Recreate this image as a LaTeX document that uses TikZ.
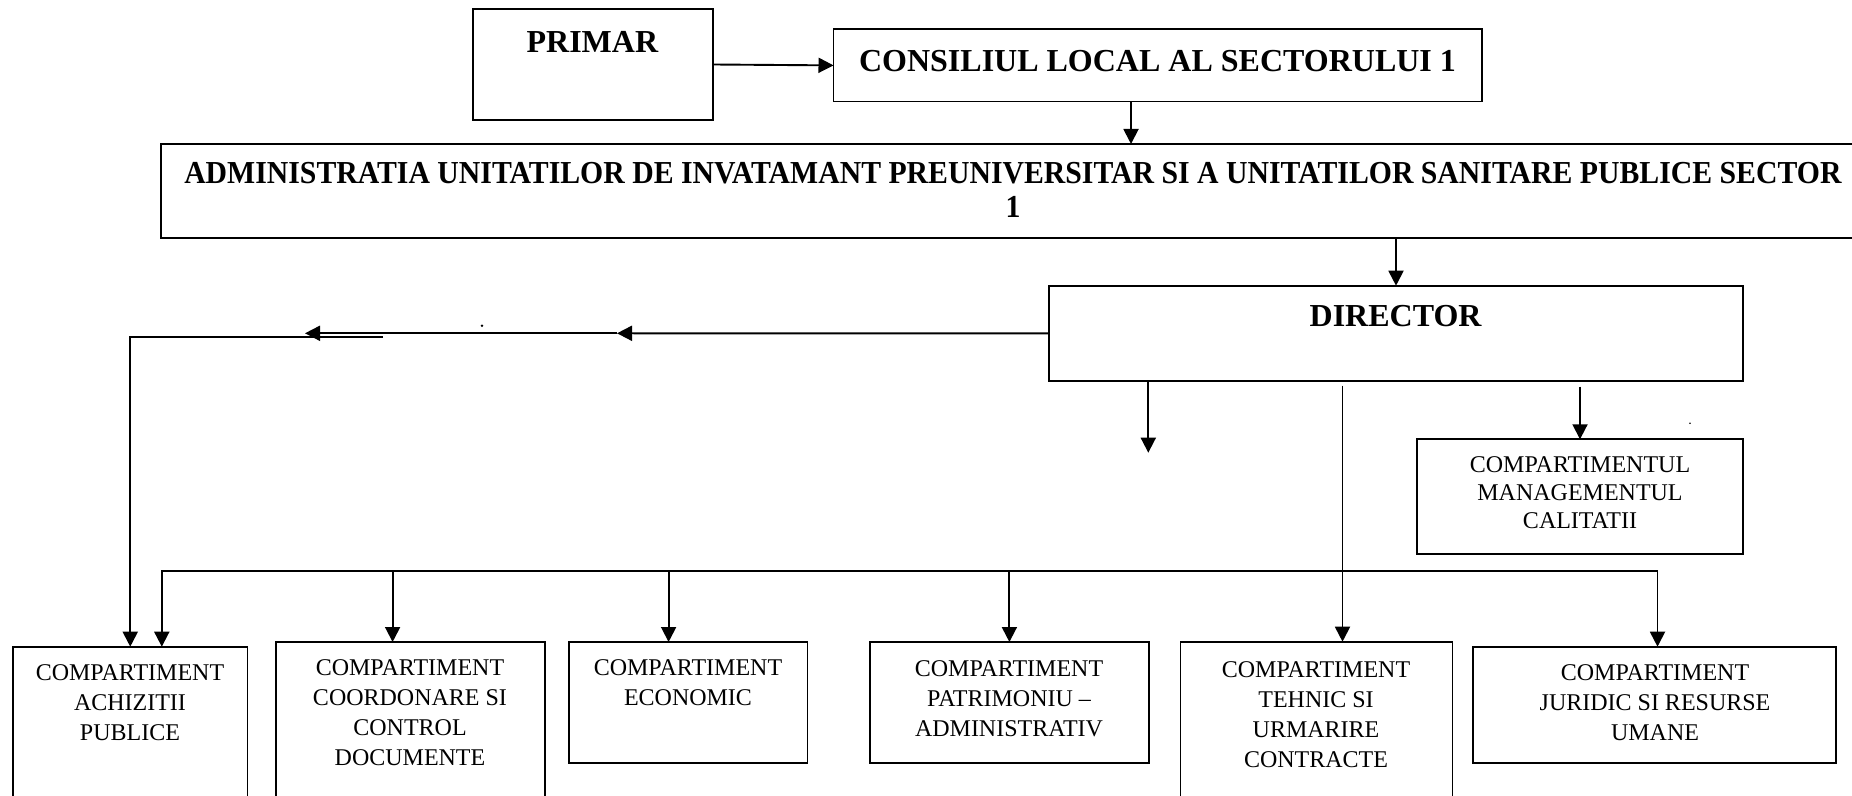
\documentclass[tikz,border=0pt]{standalone}
\usepackage{fontspec}
\setmainfont{Liberation Serif}
\newfontfamily\admfont[FakeStretch=0.93]{Liberation Serif}
\usetikzlibrary{arrows.meta}
\begin{document}
\begin{tikzpicture}[x=0.5pt,y=-0.5pt,
  box/.style={draw, line width=0.9pt, inner sep=0pt, outer sep=0pt, anchor=north west},
  arr/.style={line width=0.95pt, -{Triangle[length=7.5pt,width=7.5pt]}},
  bt/.style={font=\fontsize{16}{17}\selectfont\bfseries, inner sep=0pt, align=center},
  nt/.style={font=\fontsize{12}{15}\selectfont, inner sep=0pt, align=center, anchor=north},
  mt/.style={font=\fontsize{12}{14}\selectfont, inner sep=0pt, align=center, anchor=north}]
\useasboundingbox (0,0) rectangle (1852,796);
\fill[white] (0,0) rectangle (1852,796);

% boxes
\node[box, minimum width=120pt, minimum height=55.5pt] (primar) at (473,9) {};
\node[box, minimum width=324.25pt, minimum height=36.1pt] (consiliu) at (833.5,29.3) {};
\node[box, minimum width=848pt, minimum height=47pt] (admin) at (161,144) {};
\node[box, minimum width=347pt, minimum height=47.65pt] (director) at (1049,285.7) {};
\node[box, minimum width=163pt, minimum height=57.5pt] (mgmt) at (1417,439.3) {};
\node[box, minimum width=117.25pt, minimum height=78pt] (b1) at (13,646.7) {};
\node[box, minimum width=134.7pt, minimum height=81pt] (b2) at (275.6,642) {};
\node[box, minimum width=119.4pt, minimum height=60.35pt] (b3) at (568.6,642) {};
\node[box, minimum width=139.6pt, minimum height=60.35pt] (b4) at (869.8,642) {};
\node[box, minimum width=135.95pt, minimum height=81pt] (b5) at (1180.5,641.7) {};
\node[box, minimum width=181.5pt, minimum height=58pt] (b6) at (1473,646.7) {};

% texts
\node[bt] (primar-t) at (592.4,42) {PRIMAR};
\node[bt] (consiliu-t) at (1157.5,61) {CONSILIUL LOCAL AL SECTORULUI 1};
\node[bt, font=\fontsize{16}{17}\selectfont\admfont\bfseries, anchor=north] (admin-t) at (1013,162.2) {ADMINISTRATIA UNITATILOR DE INVATAMANT PREUNIVERSITAR SI A UNITATILOR SANITARE PUBLICE SECTOR\\1};
\node[bt] (director-t) at (1395.6,316) {DIRECTOR};
\node[mt] (mgmt-t) at (1580,456.3) {COMPARTIMENTUL\\MANAGEMENTUL\\CALITATII};
\node[nt] (b1-t) at (130,664) {COMPARTIMENT\\ACHIZITII\\PUBLICE};
\node[nt] (b2-t) at (410,659) {COMPARTIMENT\\COORDONARE SI\\CONTROL\\DOCUMENTE};
\node[nt] (b3-t) at (688,659) {COMPARTIMENT\\ECONOMIC};
\node[nt] (b4-t) at (1009,660) {COMPARTIMENT\\PATRIMONIU –\\ADMINISTRATIV};
\node[nt] (b5-t) at (1316,661) {COMPARTIMENT\\TEHNIC SI\\URMARIRE\\CONTRACTE};
\node[nt] (b6-t) at (1655,664) {COMPARTIMENT\\JURIDIC SI RESURSE\\UMANE};

% helper coordinates
\coordinate (c1) at (1131,0);
\coordinate (m1) at (617,333.3);
\coordinate (m2) at (305,333.3);
\coordinate (m3) at (383,337);
\coordinate (d1) at (1148.3,452.7);
\coordinate (t0) at (1342.5,385.7);
\coordinate (q0) at (1580,386.7);
\coordinate (bl) at (161.8,571);
\coordinate (br) at (1657.5,571);
\coordinate (k2) at (392.6,571);
\coordinate (k3) at (668.6,571);
\coordinate (k4) at (1009.4,571);
\coordinate (dot1) at (482,325.7);
\coordinate (dot2) at (1690,423.3);

% connectors
\draw[arr] (primar.east) -- (consiliu.west);
\draw[arr] (consiliu.south -| c1) -- (admin.north -| c1);
\draw[arr] (admin.south -| director.north) -- (director.north);
\draw[arr] (director.west) -- (m1);
\draw[arr] (m1) -- (m2);
\draw[arr] (m3) -| (b1.north);
\draw[arr] (director.south -| d1) -- (d1);
\draw[arr] (t0) -- (b5.north -| t0);
\draw[arr] (q0) -- (mgmt.north);
\draw[arr] (br) -- (bl) -- (b1.north -| bl);
\draw[arr] (br) -- (b6.north -| br);
\draw[arr] (k2) -- (b2.north -| k2);
\draw[arr] (k3) -- (b3.north -| k3);
\draw[arr] (k4) -- (b4.north -| k4);

\fill (dot1) circle (1.4);
\fill (dot2) circle (0.9);
\end{tikzpicture}
\end{document}
